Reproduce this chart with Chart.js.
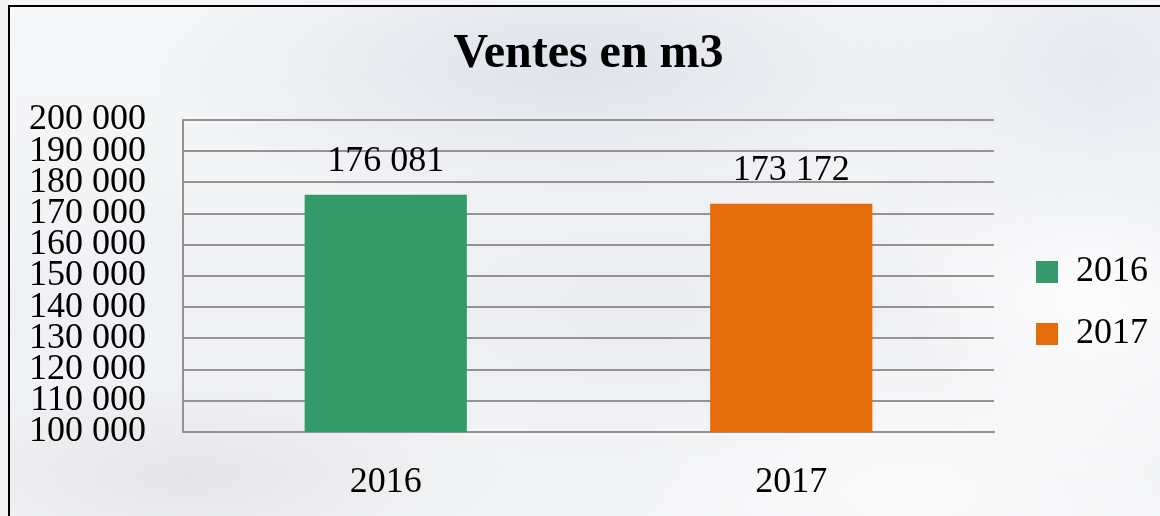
<!DOCTYPE html>
<html>
<head>
<meta charset="utf-8">
<script src="https://cdn.jsdelivr.net/npm/chart.js@4"></script>
<style>
  html, body { margin: 0; padding: 0; width: 1160px; height: 516px; overflow: hidden; background: #f4f5f7; }
  #frame {
    position: absolute; left: 8px; top: 5px; width: 1200px; height: 600px;
    border: 2px solid #000;
    background:
      radial-gradient(ellipse 420px 150px at 560px 55px, rgba(214,218,229,0.7), rgba(214,218,229,0)),
      radial-gradient(ellipse 260px 240px at 1090px 60px, rgba(220,224,234,0.6), rgba(220,224,234,0)),
      radial-gradient(ellipse 200px 220px at 1080px 260px, rgba(255,255,255,0.95), rgba(255,255,255,0)),
      radial-gradient(ellipse 320px 110px at 180px 470px, rgba(216,216,220,0.5), rgba(216,216,220,0)),
      radial-gradient(ellipse 300px 160px at 620px 300px, rgba(230,232,237,0.5), rgba(230,232,237,0)),
      radial-gradient(ellipse 300px 140px at 900px 480px, rgba(251,251,252,0.9), rgba(251,251,252,0)),
      linear-gradient(#f6f7f8, #f0f1f4 50%, #f5f6f7);
  }
  #wrap { position: absolute; left: 0; top: 0; width: 1160px; height: 516px; }
</style>
</head>
<body>
<div id="frame"></div>
<div id="wrap"><canvas id="ventes_chart" width="1160" height="516"></canvas></div>
<script>
// data
var years = ['2016', '2017'];
var ventes_2016 = [176081, null];
var ventes_2017 = [null, 173172];
var y_min = 100000;
var y_max = 200000;
var y_step = 10000;

function fmt(v) {
    return String(v).replace(/\B(?=(\d{3})+(?!\d))/g, ' ');
}

Chart.defaults.font.family = '"Liberation Serif", "Times New Roman", serif';
Chart.defaults.color = '#000';

// value above each bar
var valueLabels = {
    id: 'valueLabels',
    afterDatasetsDraw(chart) {
        var ctx = chart.ctx;
        ctx.save();
        ctx.font = '36px "Liberation Serif", serif';
        ctx.fillStyle = '#000';
        ctx.textAlign = 'center';
        ctx.textBaseline = 'middle';
        chart.data.datasets.forEach(function (ds, i) {
            chart.getDatasetMeta(i).data.forEach(function (bar, j) {
                if (ds.data[j] == null) return;
                ctx.fillText(fmt(ds.data[j]), bar.x, bar.y - 33);
            });
        });
        ctx.restore();
    }
};

var grid_color = '#939393';

var ventes_chart = new Chart(document.getElementById('ventes_chart'), {
    type: 'bar',
    data: {
        labels: years,
        datasets: [
            {
                label: '2016',
                data: ventes_2016,
                backgroundColor: '#349a69',
                grouped: false,
            },
            {
                label: '2017',
                data: ventes_2017,
                backgroundColor: '#e46c0b',
                grouped: false,
            }
        ]
    },
    options: {
        responsive: false,
        animation: false,
        barPercentage: 0.4,
        categoryPercentage: 1,
        layout: {
            padding: { left: 0, right: 2, top: 0, bottom: 0 }
        },
        scales: {
            x: {
                grid: { display: false, drawTicks: false },
                border: { display: true, color: grid_color, width: 2 },
                ticks: { font: { size: 36 }, padding: 29, color: '#000' },
                afterFit: function (s) { s.height = 84; }
            },
            y: {
                min: y_min,
                max: y_max,
                grid: { color: grid_color, lineWidth: 2, drawTicks: false },
                border: { display: true, color: grid_color, width: 2 },
                ticks: {
                    stepSize: y_step,
                    autoSkip: false,
                    font: { size: 36 },
                    padding: 37,
                    color: '#000',
                    callback: function (v) { return fmt(v); }
                },
                afterFit: function (s) { s.width = 183; }
            },
            spacer: {
                position: 'right',
                display: true,
                grid: { display: false, drawTicks: false },
                border: { display: false },
                ticks: { display: false },
                afterFit: function (s) { s.width = 16; }
            }
        },
        plugins: {
            title: {
                display: true,
                fullSize: false,
                text: 'Ventes en m3',
                color: '#000',
                font: { size: 48, weight: 'bold', lineHeight: 1.2 },
                padding: { top: 26, bottom: 36.4 }
            },
            legend: {
                position: 'right',
                fullSize: false,
                title: {
                    display: true,
                    text: '',
                    font: { size: 10, lineHeight: 1 },
                    padding: { top: 44, bottom: 0 }
                },
                labels: {
                    boxWidth: 22,
                    boxHeight: 22,
                    padding: 26,
                    color: '#000',
                    font: { size: 36 }
                }
            },
            tooltip: { enabled: false }
        }
    },
    plugins: [valueLabels]
});
</script>
</body>
</html>
